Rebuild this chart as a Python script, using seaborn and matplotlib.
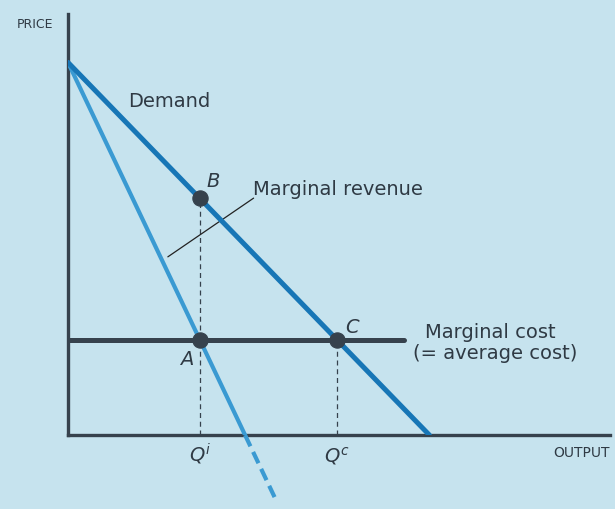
import numpy as np
import pandas as pd
import matplotlib
matplotlib.use("Agg")
import matplotlib.pyplot as plt
import seaborn as sns

# ---- data ----
price_intercept = 10.0
demand_q_intercept = 10.0
mr_q_intercept = 4.9
mc_level = 2.55
demand_q = [0.0, 10.0]
mr_q_solid = [0.0, 4.9]
mr_q_dashed = [4.9, 5.75]
mc_q = [0.0, 9.3]

def demand(q):
    return price_intercept - price_intercept / demand_q_intercept * np.asarray(q)

def mr(q):
    return price_intercept - price_intercept / mr_q_intercept * np.asarray(q)

q_i = (price_intercept - mc_level) * mr_q_intercept / price_intercept
q_c = (price_intercept - mc_level) * demand_q_intercept / price_intercept
p_b = float(demand(q_i))

sns.set_theme(style="white")
plt.rcParams['font.family'] = ['DejaVu Sans']

bg = "#c6e3ee"
dark = "#36424d"
c_dem = "#1776b6"
c_mr = "#3a9ad2"

fig = plt.figure(figsize=(6.15, 5.1), dpi=100, facecolor=bg)
ax = fig.add_axes([68/615, 74/510, (610-68)/615, (495-74)/510])
ax.set_facecolor(bg)

df_d = pd.DataFrame({"q": demand_q, "p": demand(demand_q)})
df_mr = pd.DataFrame({"q": mr_q_solid, "p": mr(mr_q_solid)})
df_mrd = pd.DataFrame({"q": mr_q_dashed, "p": mr(mr_q_dashed)})
df_mc = pd.DataFrame({"q": mc_q, "p": [mc_level] * len(mc_q)})

# dashed guide lines
ax.plot([q_i, q_i], [0, p_b], ls=(0, (4, 3)), color=dark, lw=0.9, zorder=2)
ax.plot([q_c, q_c], [0, mc_level], ls=(0, (4, 3)), color=dark, lw=0.9, zorder=2)

sns.lineplot(data=df_mr, x="q", y="p", ax=ax, color=c_mr, lw=3.0, zorder=3)
l = sns.lineplot(data=df_mrd, x="q", y="p", ax=ax, color=c_mr, lw=3.0, zorder=3)
l.lines[-1].set_linestyle((0, (3, 1.5)))
l.lines[-1].set_clip_on(False)
sns.lineplot(data=df_d, x="q", y="p", ax=ax, color=c_dem, lw=3.6, zorder=4)
sns.lineplot(data=df_mc, x="q", y="p", ax=ax, color=dark, lw=3.6, zorder=5)

pts = pd.DataFrame({"q": [q_i, q_i, q_c], "p": [p_b, mc_level, mc_level]})
sns.scatterplot(data=pts, x="q", y="p", ax=ax, color=dark, s=120, edgecolor=dark, zorder=6)

ax.set_xlim(0, 15.0)
ax.set_ylim(0, 11.3)
ax.set_xticks([])
ax.set_yticks([])
ax.set_xlabel("")
ax.set_ylabel("")
for s in ["top", "right"]:
    ax.spines[s].set_visible(False)
for s in ["left", "bottom"]:
    ax.spines[s].set_color(dark)
    ax.spines[s].set_linewidth(2.4)

fs = 14
tc = "#2f3a44"
kw = dict(fontsize=fs, color=tc, va="baseline", ha="left")
ax.text(1.66, 8.84, "Demand", **kw)
ax.text(3.82, 6.67, "B", style="italic", **kw)
ax.text(5.12, 6.48, "Marginal revenue", **kw)
ax.text(3.10, 1.91, "A", style="italic", **kw)
ax.text(7.67, 2.77, "C", style="italic", **kw)
ax.text(9.89, 2.63, "Marginal cost", **kw)
ax.text(9.56, 2.08, "(= average cost)", **kw)
ax.text(q_i, -0.70, r"$Q^{i}$", fontsize=fs, color=tc, va="baseline", ha="center")
ax.text(q_c, -0.70, r"$Q^{c}$", fontsize=fs, color=tc, va="baseline", ha="center")
ax.text(15.0, -0.56, "OUTPUT", fontsize=10, color=tc, va="baseline", ha="right")
fig.text(17/615, 1 - 28/510, "PRICE", fontsize=9, color=tc, va="baseline", ha="left")

# leader line for marginal revenue
q_lead = 2.7
ax.annotate("", xy=(q_lead, float(mr(q_lead)) + 0.25), xytext=(5.2, 6.4),
            arrowprops=dict(arrowstyle="-", color="#222", lw=0.9))

fig.savefig("out.png", dpi=100, facecolor=bg)
